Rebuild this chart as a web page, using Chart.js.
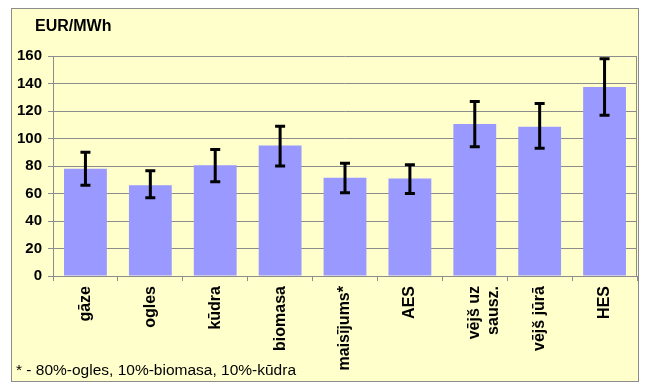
<!DOCTYPE html>
<html lang="lv">
  <head>
    <meta charset="UTF-8" />
    <title>EUR/MWh</title>
    <script src="https://cdn.jsdelivr.net/npm/chart.js"></script>
    <style>
      html, body { margin: 0; padding: 0; background: #ffffff; }
      #wrap { width: 645px; height: 388px; }
    </style>
  </head>
  <body>
    <div id="wrap"><canvas id="myCanvas" width="645" height="388"></canvas></div>
    <script>
      // dati
      const kategorijas = ["gāze", "ogles", "kūdra", "biomasa", "maisījums*", "AES", ["vējš uz", "sausz."], "vējš jūrā", "HES"];
      const vertibas = [78, 66, 80.5, 95, 71.5, 71, 110.5, 108.5, 137.5];
      const augsa = [90, 76.5, 92, 109, 82, 81, 127, 125.5, 158];
      const apaksa = [66, 57, 68.5, 80, 60.5, 60, 94, 93, 117];
      const yTicks = [0, 20, 40, 60, 80, 100, 120, 140, 160];

      const fonts = "'Liberation Sans', Arial, sans-serif";

      // fons, rāmis un teksti
      const ramis = {
        id: "ramis",
        beforeDraw(chart) {
          const c = chart.ctx;
          c.save();
          c.fillStyle = "#ffffcc";
          c.fillRect(11.5, 8.5, 627, 373);
          c.strokeStyle = "#8c8c8c";
          c.lineWidth = 1;
          c.strokeRect(11.5, 8.5, 627, 373);
          c.restore();
        },
        afterDraw(chart) {
          const c = chart.ctx;
          const a = chart.chartArea;
          c.save();
          // labā mala
          c.strokeStyle = "#8c8c8c";
          c.beginPath();
          c.moveTo(Math.round(a.right) - 0.5, a.top);
          c.lineTo(Math.round(a.right) - 0.5, a.bottom);
          c.stroke();
          c.fillStyle = "#000";
          c.textBaseline = "middle";
          c.font = "bold 16px " + fonts;
          c.fillText("EUR/MWh", 35, 27);
          c.font = "15.5px " + fonts;
          c.fillText("* - 80%-ogles, 10%-biomasa, 10%-kūdra", 16, 371);
          c.restore();
        },
      };

      // kļūdu joslas
      const kludas = {
        id: "kludas",
        afterDatasetsDraw(chart) {
          const c = chart.ctx;
          const y = chart.scales.y;
          const meta = chart.getDatasetMeta(0);
          c.save();
          c.strokeStyle = "#000";
          c.lineWidth = 3;
          for (let i = 0; i < meta.data.length; i++) {
            const x = meta.data[i].x;
            const y1 = y.getPixelForValue(augsa[i]);
            const y2 = y.getPixelForValue(apaksa[i]);
            c.beginPath();
            c.moveTo(x, y1);
            c.lineTo(x, y2);
            c.moveTo(x - 5, y1);
            c.lineTo(x + 5, y1);
            c.moveTo(x - 5, y2);
            c.lineTo(x + 5, y2);
            c.stroke();
          }
          c.restore();
        },
      };

      const config = {
        type: "bar",
        data: {
          labels: kategorijas,
          datasets: [
            {
              data: vertibas,
              backgroundColor: "#9999ff",
              borderWidth: 0,
              categoryPercentage: 1,
              barPercentage: 0.66,
            },
          ],
        },
        options: {
          responsive: false,
          animation: false,
          layout: { padding: { left: 0, right: 8, top: 56, bottom: 0 } },
          plugins: {
            legend: { display: false },
            tooltip: { enabled: false },
          },
          scales: {
            x: {
              afterFit(s) { s.height = 112; },
              grid: {
                drawOnChartArea: false,
                drawTicks: true,
                tickLength: 5,
                color: "#8c8c8c",
              },
              border: { color: "#8c8c8c" },
              ticks: {
                color: "#000",
                font: { family: fonts, size: 16, weight: "bold" },
                minRotation: 90,
                maxRotation: 90,
                autoSkip: false,
                padding: 5,
              },
            },
            y: {
              min: 0,
              max: 160,
              afterFit(s) { s.width = 53; },
              afterBuildTicks(s) { s.ticks = yTicks.map((v) => ({ value: v })); },
              grid: { color: "#8c8c8c", tickLength: 5 },
              border: { color: "#8c8c8c" },
              ticks: {
                color: "#000",
                font: { family: fonts, size: 15, weight: "bold" },
                padding: 6,
              },
            },
          },
        },
        plugins: [ramis, kludas],
      };

      new Chart(document.getElementById("myCanvas"), config);
    </script>
  </body>
</html>
